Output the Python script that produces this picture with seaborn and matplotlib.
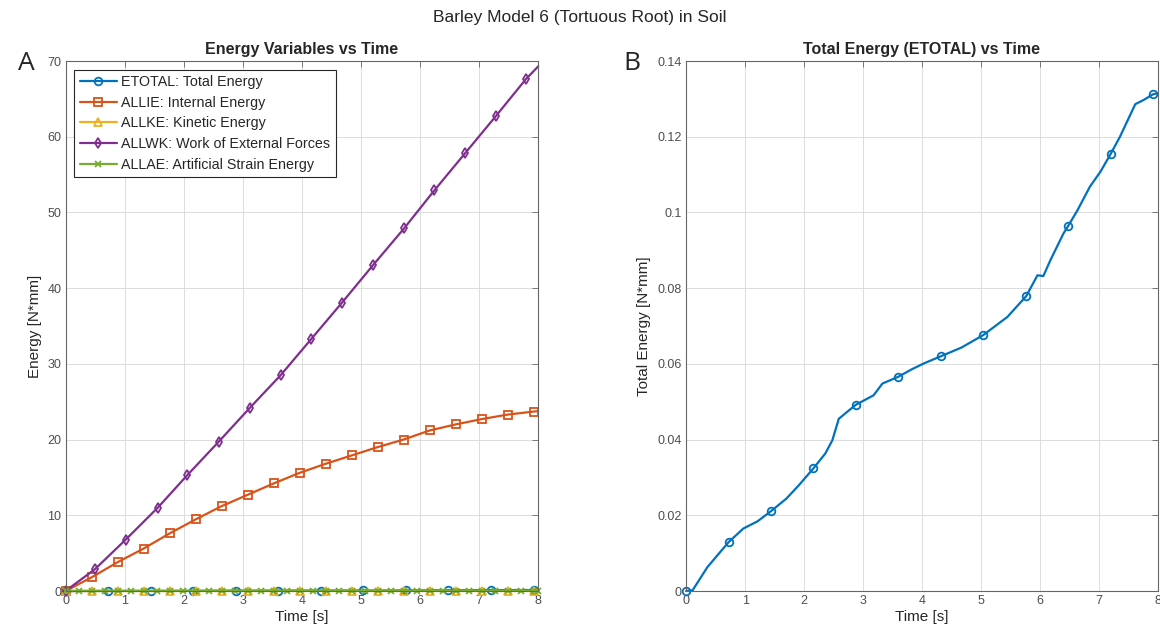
import numpy as np
import pandas as pd
import matplotlib
matplotlib.use("Agg")
import matplotlib.pyplot as plt
import seaborn as sns

sns.set_style("white")
plt.rcParams["font.family"] = ["Liberation Sans", "DejaVu Sans"]

# ---- data -------------------------------------------------------------
# ETOTAL: total energy [N*mm]
etotal_t = [0.0, 0.11, 0.36, 0.72, 0.97, 1.21, 1.44, 1.70, 1.91, 2.16, 2.36, 2.48,
            2.59, 2.73, 2.88, 3.18, 3.33, 3.60, 3.82, 4.03, 4.32, 4.67, 5.04, 5.45,
            5.77, 5.96, 6.06, 6.18, 6.40, 6.48, 6.64, 6.85, 7.03, 7.20, 7.36, 7.52,
            7.62, 7.76, 7.92, 8.0]
etotal_e = [0.0, 0.0002, 0.0063, 0.0129, 0.0165, 0.0184, 0.0211, 0.0244, 0.0279, 0.0324,
            0.0363, 0.0398, 0.0455, 0.0473, 0.0492, 0.0517, 0.0548, 0.0566, 0.0585, 0.0601,
            0.0620, 0.0643, 0.0676, 0.0724, 0.0779, 0.0834, 0.0832, 0.0874, 0.0944, 0.0964,
            0.1006, 0.1068, 0.1108, 0.1154, 0.1200, 0.1253, 0.1286, 0.1297, 0.1312, 0.1315]
etotal_marks = [0, 3, 6, 9, 14, 17, 20, 22, 24, 29, 33, 38]

# ALLIE: internal energy
allie_t = [0.0, 0.44, 0.88, 1.32, 1.76, 2.20, 2.64, 3.08, 3.52, 3.96, 4.40, 4.84,
           5.28, 5.72, 6.16, 6.60, 7.04, 7.48, 7.92, 8.0]
allie_e = [0.0, 1.8, 3.8, 5.6, 7.6, 9.45, 11.2, 12.7, 14.2, 15.6, 16.8, 17.9,
           19.0, 20.0, 21.2, 22.0, 22.7, 23.3, 23.7, 23.75]

# ALLKE: kinetic energy
allke_t = [0.0, 0.44, 0.88, 1.32, 1.76, 2.20, 2.64, 3.08, 3.52, 3.96, 4.40, 4.84,
           5.28, 5.72, 6.16, 6.60, 7.04, 7.48, 7.92, 8.0]
allke_e = [0.0, 0.002, 0.003, 0.002, 0.004, 0.003, 0.002, 0.003, 0.004, 0.002, 0.003,
           0.002, 0.003, 0.004, 0.002, 0.003, 0.002, 0.003, 0.002, 0.002]

# ALLWK: work of external forces
allwk_t = [0.0, 0.50, 1.02, 1.56, 2.06, 2.59, 3.12, 3.64, 4.16, 4.68, 5.20, 5.73,
           6.24, 6.76, 7.28, 7.79, 8.0]
allwk_e = [0.0, 2.9, 6.8, 11.0, 15.3, 19.7, 24.2, 28.5, 33.3, 38.1, 43.0, 47.9,
           52.9, 57.8, 62.7, 67.6, 69.3]

# ALLAE: artificial strain energy
allae_t = [0.0, 0.22, 0.44, 0.66, 0.88, 1.10, 1.32, 1.54, 1.76, 1.98, 2.20, 2.42,
           2.64, 2.86, 3.08, 3.30, 3.52, 3.74, 3.96, 4.18, 4.40, 4.62, 4.84, 5.06,
           5.28, 5.50, 5.72, 5.94, 6.16, 6.38, 6.60, 6.82, 7.04, 7.26, 7.48, 7.70,
           7.92, 8.0]
allae_e = [0.0, 0.001, 0.002, 0.003, 0.004, 0.005, 0.006, 0.007, 0.008, 0.009, 0.010,
           0.011, 0.012, 0.013, 0.014, 0.015, 0.016, 0.017, 0.018, 0.019, 0.020, 0.021,
           0.022, 0.023, 0.024, 0.025, 0.026, 0.027, 0.028, 0.029, 0.030, 0.031, 0.032,
           0.033, 0.034, 0.035, 0.036, 0.036]

x_ticks = list(range(0, 9))
left_yticks = [0, 10, 20, 30, 40, 50, 60, 70]
right_yticks = [0, 0.02, 0.04, 0.06, 0.08, 0.1, 0.12, 0.14]
right_ytick_labels = ["0", "0.02", "0.04", "0.06", "0.08", "0.1", "0.12", "0.14"]

# MATLAB-style colour order
C_BLUE, C_ORANGE, C_YELLOW, C_PURPLE, C_GREEN = "#0072BD", "#D95319", "#EDB120", "#7E2F8E", "#77AC30"

fig = plt.figure(figsize=(11.6, 6.37), dpi=100)
axA = fig.add_axes([0.0565, 0.0722, 0.4075, 0.832])
axB = fig.add_axes([0.5915, 0.0722, 0.4065, 0.832])

lw = 1.6
ms = 5.5


def line(ax, t, e, color, marker, label, **kw):
    df = pd.DataFrame({"t": t, "e": e})
    sns.lineplot(data=df, x="t", y="e", ax=ax, color=color, lw=lw, marker=marker,
                 markersize=ms, markerfacecolor="none", markeredgecolor=color,
                 markeredgewidth=1.3, label=label, sort=False, estimator=None, **kw)


# Panel A: all energy variables
line(axA, etotal_t, etotal_e, C_BLUE, "o", "ETOTAL: Total Energy", markevery=etotal_marks)
line(axA, allie_t, allie_e, C_ORANGE, "s", "ALLIE: Internal Energy", markevery=list(range(19)))
line(axA, allke_t, allke_e, C_YELLOW, "^", "ALLKE: Kinetic Energy", markevery=list(range(19)))
line(axA, allwk_t, allwk_e, C_PURPLE, "d", "ALLWK: Work of External Forces", markevery=list(range(16)))
line(axA, allae_t, allae_e, C_GREEN, "x", "ALLAE: Artificial Strain Energy")
for l in axA.get_lines():
    l.set_clip_on(False)
    if l.get_marker() == "x":
        l.set_markersize(4)

axA.set_xlim(0, 8)
axA.set_ylim(0, 70)
axA.set_xticks(x_ticks)
axA.set_yticks(left_yticks)
axA.set_title("Energy Variables vs Time", fontsize=11.5, fontweight="bold", pad=5)
axA.set_xlabel("Time [s]", fontsize=11, color="#262626", labelpad=2)
axA.set_ylabel("Energy [N*mm]", fontsize=11, color="#262626", labelpad=4)
leg = axA.legend(loc="upper left", fontsize=10.3, frameon=True, fancybox=False,
                 edgecolor="#262626", borderpad=0.4, labelspacing=0.46,
                 handlelength=2.6, handletextpad=0.3, borderaxespad=0.6)
leg.get_frame().set_linewidth(0.8)
leg.get_frame().set_alpha(1)

# Panel B: total energy only
line(axB, etotal_t, etotal_e, C_BLUE, "o", None, markevery=etotal_marks)
for l in axB.get_lines():
    l.set_clip_on(False)
axB.set_xlim(0, 8)
axB.set_ylim(0, 0.14)
axB.set_xticks(x_ticks)
axB.set_yticks(right_yticks)
axB.set_yticklabels(right_ytick_labels)
axB.set_title("Total Energy (ETOTAL) vs Time", fontsize=11.5, fontweight="bold", pad=5)
axB.set_xlabel("Time [s]", fontsize=11, color="#262626", labelpad=2)
axB.set_ylabel("Total Energy [N*mm]", fontsize=11, color="#262626", labelpad=5)

for ax in (axA, axB):
    ax.grid(True, color="#dcdcdc", lw=0.7)
    ax.set_axisbelow(True)
    for s in ax.spines.values():
        s.set_color("#666666")
        s.set_linewidth(0.8)
    ax.tick_params(direction="in", length=4, width=0.6, colors="#666666",
                   labelsize=9, top=True, right=True, pad=3)
    for lab in ax.get_xticklabels() + ax.get_yticklabels():
        lab.set_color("#4d4d4d")

fig.suptitle("Barley Model 6 (Tortuous Root) in Soil", y=0.985, fontsize=12.5, color="#262626")
fig.text(0.0155, 0.90, "A", fontsize=19, family="Open Sans", va="center")
fig.text(0.537, 0.90, "B", fontsize=19, family="Open Sans", va="center")

fig.savefig("out.png", dpi=100, facecolor="white")
